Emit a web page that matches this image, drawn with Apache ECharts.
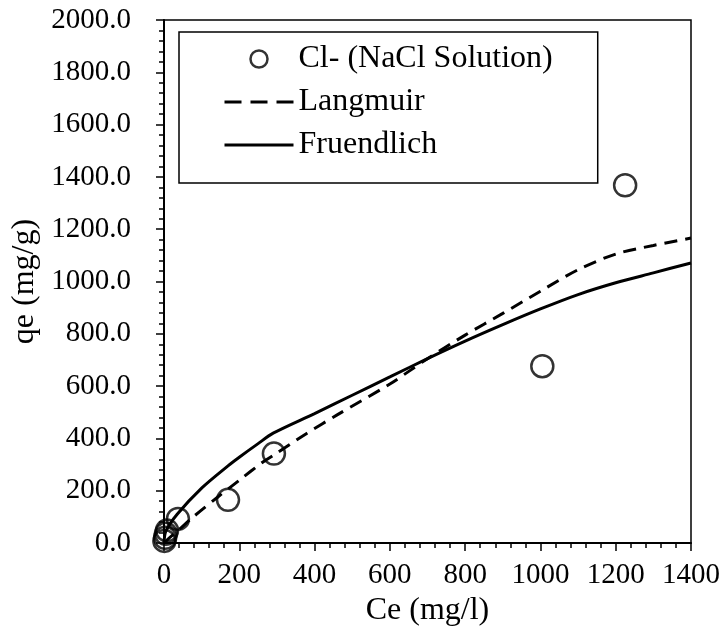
<!DOCTYPE html>
<html><head><meta charset="utf-8">
<script src="https://cdn.jsdelivr.net/npm/echarts@6/dist/echarts.min.js"></script>
<style>html,body{margin:0;padding:0;background:#fff}#c{width:726px;height:642px}</style>
</head><body><div id="c"></div>
<script>
// Measured data (Ce mg/l, qe mg/g)
const dataCe = [1, 3, 5, 8, 37, 170, 292, 1005, 1225];
const dataQe = [8, 20, 35, 48, 92, 165, 342, 676, 1368];
// Langmuir model curve
const langCe = [0, 10, 35, 77, 143, 200, 263, 290, 380, 460, 600, 700, 800, 900, 1000, 1100, 1200, 1300, 1400];
const langQe = [0, 14, 45, 99, 176, 240, 310, 335, 420, 490, 608, 705, 795, 878, 963, 1045, 1105, 1138, 1166];
// Freundlich model curve
const freCe = [0, 5, 35, 100, 170, 200, 250, 290, 400, 500, 600, 700, 800, 900, 1000, 1100, 1200, 1300, 1400];
const freQe = [0, 45, 110, 210, 295, 328, 380, 420, 495, 565, 635, 705, 772, 835, 895, 950, 995, 1033, 1071];
const xTicks = [0, 200, 400, 600, 800, 1000, 1200, 1400];
const yTicks = [0, 200, 400, 600, 800, 1000, 1200, 1400, 1600, 1800, 2000];

const zip = (a, b) => a.map((v, i) => [v, b[i]]);
const FONT = "'Liberation Serif','Times New Roman',serif";
const DASH = [13, 8];
const chart = echarts.init(document.getElementById('c'), null, {renderer: 'canvas'});
chart.setOption({
  animation: false,
  backgroundColor: '#fff',
  textStyle: {fontFamily: FONT, color: '#000'},
  grid: {left: 164, right: 35, top: 20, bottom: 99, show: true, borderColor: '#000', borderWidth: 1.5, backgroundColor: 'transparent'},
  legend: {
    left: 179, top: 32, orient: 'vertical',
    padding: [11, 45, 22, 44],
    borderColor: '#000', borderWidth: 1.5,
    itemWidth: 69, itemHeight: 17, itemGap: 11,
    itemTextGap: 6,
    textStyle: {fontFamily: FONT, fontSize: 32, color: '#000', lineHeight: 32},
    data: [
      {name: 'Cl- (NaCl Solution)', itemStyle: {color: 'transparent', borderColor: '#000', borderWidth: 2.5}},
      {name: 'Langmuir', itemStyle: {opacity: 0}, lineStyle: {color: '#000', width: 3, type: [17, 9]}},
      {name: 'Fruendlich', itemStyle: {opacity: 0}, lineStyle: {color: '#000', width: 3, type: 'solid'}}
    ]
  },
  xAxis: {
    type: 'value', min: xTicks[0], max: xTicks[xTicks.length - 1], interval: 200,
    name: 'Ce (mg/l)', nameLocation: 'middle', nameGap: 49,
    nameTextStyle: {fontFamily: FONT, fontSize: 32, color: '#000'},
    axisLine: {show: true, lineStyle: {color: '#000', width: 2}},
    axisTick: {show: true, inside: false, length: 8, lineStyle: {color: '#000', width: 1.5}},
    minorTick: {show: true, splitNumber: 5, length: 5, lineStyle: {color: '#000', width: 1.5}},
    splitLine: {show: false},
    axisLabel: {fontFamily: FONT, fontSize: 29, color: '#000', margin: 18, formatter: v => String(v)}
  },
  yAxis: {
    type: 'value', min: yTicks[0], max: yTicks[yTicks.length - 1], interval: 200,
    name: 'qe (mg/g)', nameLocation: 'middle', nameGap: 117, nameRotate: 90,
    nameTextStyle: {fontFamily: FONT, fontSize: 32, color: '#000'},
    axisLine: {show: true, lineStyle: {color: '#000', width: 2}},
    axisTick: {show: true, inside: false, length: 8, lineStyle: {color: '#000', width: 1.5}},
    minorTick: {show: true, splitNumber: 5, length: 5, lineStyle: {color: '#000', width: 1.5}},
    splitLine: {show: false},
    axisLabel: {fontFamily: FONT, fontSize: 29, color: '#000', margin: 33, formatter: v => v.toFixed(1)}
  },
  series: [
    {
      name: 'Cl- (NaCl Solution)', type: 'scatter', data: zip(dataCe, dataQe),
      symbol: 'circle', symbolSize: 22,
      itemStyle: {color: 'transparent', borderColor: '#000', borderWidth: 2.5},
      z: 3
    },
    {
      name: 'Langmuir', type: 'line', data: zip(langCe, langQe), smooth: 0.3,
      symbol: 'none', lineStyle: {color: '#000', width: 3, type: DASH},
      itemStyle: {color: '#000'}
    },
    {
      name: 'Fruendlich', type: 'line', data: zip(freCe, freQe), smooth: 0.3,
      symbol: 'none', lineStyle: {color: '#000', width: 3, type: 'solid'},
      itemStyle: {color: '#000'}
    }
  ]
});
</script></body></html>
